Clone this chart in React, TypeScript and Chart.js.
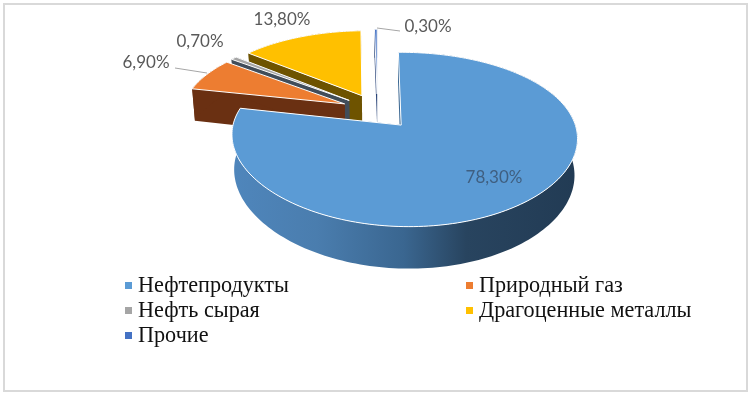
import React, { useEffect, useRef } from "react";
import { Chart, registerables } from "chart.js";

Chart.register(...registerables);

const categories = ["Нефтепродукты", "Природный газ", "Нефть сырая", "Драгоценные металлы", "Прочие"];
const shares = [78.3, 6.9, 0.7, 13.8, 0.3];
const valueLabels = ["78,30%", "6,90%", "0,70%", "13,80%", "0,30%"];
const topColors = ["#5B9BD5", "#ED7D31", "#A5A5A5", "#FFC000", "#4472C4"];
const wallColors = ["#2F5F8F", "#6A3012", "#414D5A", "#6E5300", "#2A4478"];
const drawOrder = [3, 4, 2, 1, 0];

const labelPlaces: [number, number][] = [[494, 178], [146, 63], [200, 42], [282, 20], [428, 27]];
const leaders: ([number, number, number, number] | null)[] = [null, [175, 68, 207, 73], null, null, [400, 31, 377, 28]];

const CX = 377.5, CY = 111, A = 166.5, B = 80, K = 0.16, KX = 0.13, M = 0.0176, DEPTH = 34, EXPLODE = 0.22;

function proj(u: number, v: number, z: number): [number, number] {
  const w = 1 - K * v - M * u;
  const wx = 1 - KX * v - M * u;
  return [CX + (A * u * (1 - z * 0.015)) / wx, CY + (B * v + DEPTH * z) / w];
}

const pie3d = {
  id: "pie3d",
  beforeDatasetsDraw(chart: any) {
    const ctx = chart.ctx as CanvasRenderingContext2D;
    const meta = chart.getDatasetMeta(0);
    drawOrder.forEach((i) => {
      const el = meta.data[i];
      const s = el.startAngle + Math.PI / 2;
      const e = el.endAngle + Math.PI / 2;
      const mid = (s + e) / 2;
      const ox = EXPLODE * Math.sin(mid);
      const oy = -EXPLODE * Math.cos(mid);
      const pt = (t: number, z: number) => proj(ox + Math.sin(t), oy - Math.cos(t), z);
      const apex = (z: number) => proj(ox, oy, z);
      const steps = Math.max(3, Math.ceil((e - s) * 40));
      const angles: number[] = [];
      for (let n = 0; n <= steps; n++) angles.push(s + ((e - s) * n) / steps);
      const fillPoly = (pts: [number, number][], fill: any, stroke?: string) => {
        ctx.beginPath();
        pts.forEach((p, n) => (n ? ctx.lineTo(p[0], p[1]) : ctx.moveTo(p[0], p[1])));
        ctx.closePath();
        ctx.fillStyle = fill;
        ctx.fill();
        if (stroke) {
          ctx.strokeStyle = stroke;
          ctx.lineWidth = 1;
          ctx.stroke();
        }
      };
      let wall: any = wallColors[i];
      if (i === 0) {
        const g = ctx.createLinearGradient(231, 0, 577, 0);
        g.addColorStop(0, "#4F86BC");
        g.addColorStop(0.25, "#4A7DAE");
        g.addColorStop(0.5, "#3A6690");
        g.addColorStop(0.68, "#28445F");
        g.addColorStop(1, "#223B54");
        wall = g;
      }
      fillPoly([apex(0), pt(s, 0), pt(s, 1), apex(1)], wall);
      fillPoly([apex(0), pt(e, 0), pt(e, 1), apex(1)], wall);
      fillPoly([...angles.map((t) => pt(t, 0)), ...angles.slice().reverse().map((t) => pt(t, 1))], wall);
      fillPoly([apex(0), ...angles.map((t) => pt(t, 0))], el.options.backgroundColor, "#FFFFFF");
    });
    return false;
  },
  afterDraw(chart: any) {
    const ctx = chart.ctx as CanvasRenderingContext2D;
    ctx.save();
    ctx.strokeStyle = "#A6A6A6";
    ctx.lineWidth = 1;
    leaders.forEach((l) => {
      if (!l) return;
      ctx.beginPath();
      ctx.moveTo(l[0], l[1]);
      ctx.lineTo(l[2], l[3]);
      ctx.stroke();
    });
    ctx.font = '17px Lato, "Open Sans", sans-serif';
    ctx.textAlign = "center";
    ctx.textBaseline = "middle";
    valueLabels.forEach((t, i) => {
      ctx.fillStyle = i === 0 ? "#3F5F80" : "#595959";
      ctx.fillText(t, labelPlaces[i][0], labelPlaces[i][1]);
    });
    ctx.restore();
  },
};

export default function App() {
  const ref = useRef<HTMLCanvasElement | null>(null);
  useEffect(() => {
    document.body.style.margin = "0";
    const chart = new Chart(ref.current as HTMLCanvasElement, {
      type: "pie",
      data: {
        labels: categories,
        datasets: [{ data: shares, backgroundColor: topColors, borderWidth: 0 }],
      },
      options: {
        animation: false,
        responsive: false,
        plugins: { legend: { display: false }, tooltip: { enabled: false } },
      },
      plugins: [pie3d],
    } as any);
    return () => chart.destroy();
  }, []);

  const colLeft = [125, 466];
  return (
    <div style={{ position: "absolute", left: 0, top: 0, width: 748, height: 394, background: "#fff", overflow: "hidden", filter: "blur(0.35px)" }}>
      <canvas ref={ref} width={748} height={394} style={{ display: "block", position: "absolute", left: 0, top: 0 }} />
      <div style={{ position: "absolute", left: 3, top: 3, width: 741, height: 385, border: "2px solid #D9D9D9", pointerEvents: "none" }} />
      {categories.map((c, i) => (
        <div
          key={c}
          style={{
            position: "absolute",
            left: colLeft[i % 2],
            top: 272 + 25 * Math.floor(i / 2),
            height: 25,
            font: '22.2px/25px "Liberation Serif", serif',
            color: "#111111",
            whiteSpace: "nowrap",
          }}
        >
          <span style={{ display: "inline-block", width: 7, height: 7, background: topColors[i], marginRight: 6, verticalAlign: "middle", position: "relative", top: -1 }} />
          {c}
        </div>
      ))}
    </div>
  );
}
